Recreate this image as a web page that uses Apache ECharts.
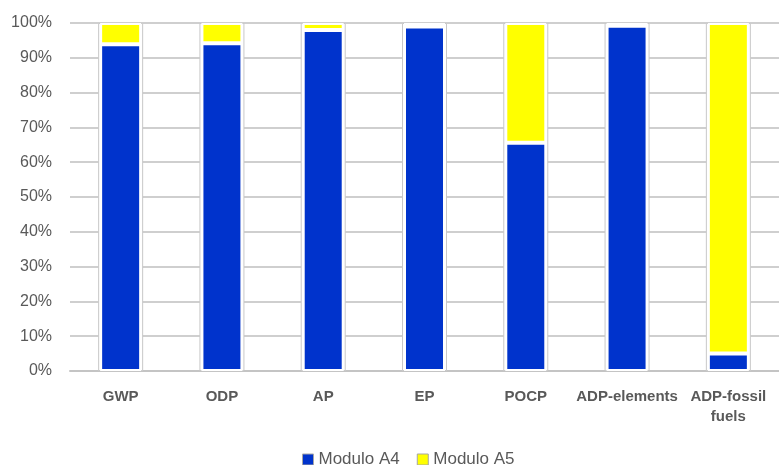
<!DOCTYPE html>
<html>
<head>
<meta charset="utf-8">
<title>Modulo A4 / A5</title>
<script src="https://cdn.jsdelivr.net/npm/echarts@6/dist/echarts.min.js"></script>
<style>
  html, body { margin: 0; padding: 0; background: #fff; }
  #chart { width: 779px; height: 465px; }
</style>
</head>
<body>
<div id="chart"></div>
<script>
// categorie (indicatori)
const categories = ['GWP', 'ODP', 'AP', 'EP', 'POCP', 'ADP-elements', 'ADP-fossil\nfuels']
// quota percentuale per modulo
const moduloA4 = [93.9, 94.2, 98.0, 99.0, 65.6, 99.2, 5.0]
const moduloA5 = [6.1, 5.8, 2.0, 1.0, 34.4, 0.8, 95.0]
// riquadro di sfondo di ogni colonna (scala piena)
const frameValues = [100, 100, 100, 100, 100, 100, 100]

const chart = echarts.init(document.getElementById('chart'))

const textColor = '#595959'
const gridColor = '#cfcfcf'

const option = {
  animation: false,
  grid: {
    left: 70,
    top: 23,
    width: 719,
    height: 348,
    containLabel: false
  },
  legend: {
    data: ['Modulo A4', 'Modulo A5'],
    left: 297,
    top: 446,
    icon: 'rect',
    itemWidth: 11,
    itemHeight: 11,
    itemGap: 17,
    itemStyle: {
      borderColor: '#a6a6a6',
      borderWidth: 1
    },
    textStyle: {
      color: textColor,
      fontFamily: 'Liberation Sans, Arial, sans-serif',
      fontSize: 17
    }
  },
  xAxis: [
    {
      type: 'category',
      data: categories,
      axisLine: { lineStyle: { color: '#c4c4c4', width: 2 } },
      axisTick: { length: 6, lineStyle: { color: '#c4c4c4', width: 1 } },
      axisLabel: {
        interval: 0,
        color: textColor,
        fontFamily: 'Liberation Sans, Arial, sans-serif',
        fontWeight: 'bold',
        fontSize: 15,
        margin: 16,
        lineHeight: 20
      },
      splitLine: { show: false }
    },
    {
      // asse nascosto per i riquadri di sfondo
      type: 'category',
      data: categories,
      show: false
    }
  ],
  yAxis: {
    type: 'value',
    min: 0,
    max: 100,
    interval: 10,
    axisLine: { show: false },
    axisTick: { show: false },
    axisLabel: {
      formatter: '{value}%',
      color: textColor,
      fontFamily: 'Liberation Sans, Arial, sans-serif',
      fontSize: 16,
      margin: 18
    },
    splitLine: { lineStyle: { color: gridColor, width: 2 } }
  },
  series: [
    {
      name: 'frame',
      type: 'bar',
      xAxisIndex: 1,
      data: frameValues,
      barWidth: 45,
      silent: true,
      z: 1,
      itemStyle: {
        color: '#ffffff',
        borderColor: '#c8c8c8',
        borderWidth: 1
      }
    },
    {
      name: 'Modulo A4',
      type: 'bar',
      stack: 'tot',
      data: moduloA4,
      barWidth: 41,
      z: 3,
      itemStyle: {
        color: '#0033cc',
        borderColor: '#ffffff',
        borderWidth: 2
      }
    },
    {
      name: 'Modulo A5',
      type: 'bar',
      stack: 'tot',
      data: moduloA5,
      barWidth: 41,
      z: 3,
      itemStyle: {
        color: '#ffff00',
        borderColor: '#ffffff',
        borderWidth: 2
      }
    }
  ]
}

chart.setOption(option)
</script>
</body>
</html>
